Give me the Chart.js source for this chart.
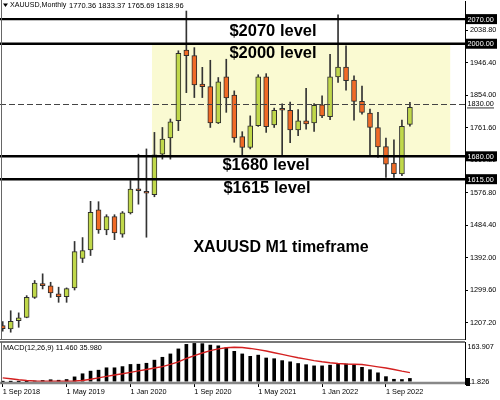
<!DOCTYPE html>
<html><head><meta charset="utf-8">
<script src="https://cdn.jsdelivr.net/npm/chart.js@4.4.1/dist/chart.umd.min.js"></script>
<style>
html,body{margin:0;padding:0;background:#fff;}
#wrap{position:relative;width:500px;height:400px;overflow:hidden;background:#fff;}
canvas{position:absolute;left:0;}
#c1{top:0;} #c2{top:340px;}
</style></head><body>
<div id="wrap"><canvas id="c1" width="500" height="340"></canvas><canvas id="c2" width="500" height="60"></canvas></div>
<script>
// ---- data ----
const months = ['Sep 2018','Oct 2018','Nov 2018','Dec 2018','Jan 2019','Feb 2019','Mar 2019','Apr 2019','May 2019','Jun 2019','Jul 2019','Aug 2019',
 'Sep 2019','Oct 2019','Nov 2019','Dec 2019','Jan 2020','Feb 2020','Mar 2020','Apr 2020','May 2020','Jun 2020','Jul 2020','Aug 2020',
 'Sep 2020','Oct 2020','Nov 2020','Dec 2020','Jan 2021','Feb 2021','Mar 2021','Apr 2021','May 2021','Jun 2021','Jul 2021','Aug 2021',
 'Sep 2021','Oct 2021','Nov 2021','Dec 2021','Jan 2022','Feb 2022','Mar 2022','Apr 2022','May 2022','Jun 2022','Jul 2022','Aug 2022',
 'Sep 2022','Oct 2022','Nov 2022','Dec 2022'];
const opens  = [1199,1189,1213,1222,1279,1318,1312,1289,1281,1306,1390,1414,1528,1471,1509,1459,1519,1587,1579,1571,1686,1732,1781,1982,
 1966,1885,1878,1775,1906,1854,1736,1705,1767,1906,1769,1813,1811,1755,1781,1775,1826,1793,1906,1934,1897,1836,1803,1762,1708,1661,1630,1770.36];
const highs  = [1210,1241,1235,1284,1327,1346,1322,1308,1306,1438,1449,1552,1551,1514,1514,1523,1611,1686,1701,1748,1762,1786,1980,2093,
 1989,1933,1953,1904,1956,1866,1750,1795,1912,1915,1817,1829,1834,1813,1873,1830,1852,1970,2082,1994,1909,1880,1814,1805,1732,1727,1783,1833.37];
const lows   = [1183,1180,1194,1221,1276,1303,1279,1265,1265,1300,1378,1398,1461,1457,1443,1450,1516,1544,1450,1565,1672,1672,1753,1861,
 1847,1847,1762,1773,1805,1720,1680,1701,1765,1748,1762,1682,1719,1739,1757,1751,1790,1784,1890,1868,1783,1800,1680,1677,1620,1620,1625,1765.69];
const closes = [1190,1211,1221,1279,1320,1312,1292,1281,1304,1409,1412,1521,1471,1509,1462,1519,1587,1582,1575,1684,1729,1778,1973,1966,
 1883,1878,1775,1892,1846,1732,1705,1767,1906,1764,1811,1811,1755,1781,1772,1825,1795,1906,1934,1895,1836,1805,1762,1707,1658,1631,1765,1818.96];
const macdMain   = [-9,-11.8,-10,-7,1,3,6,4,7,18,31,42,46,56,56,61,70,71,75,88,100,114,135,154,158,157,151,148,140,125,
 114,104,109,97,94,86,81,74,69,64,64,67,72,72,67,58,48,35,19,8,7,11.46];
const macdSignal = [14,10,6,3,1,0,0,0,0,1,3,8,14,20,26,31,37,43,49,55,61,70,81,95,107,118,128,135,140,142,
 141,137,132,126,119,112,105,98,92,86,81,77,74,72,71,70,65,60,55,49,42,35.98];
const xTickLabels = ['1 Sep 2018','1 May 2019','1 Jan 2020','1 Sep 2020','1 May 2021','1 Jan 2022','1 Sep 2022'];
const priceTicks = [1207.2,1299.6,1392.0,1484.4,1576.8,1669.2,1761.6,1854.0,1946.4,2038.8];
const keyLevels = [2070,2000,1680,1615];
const keyLevelTexts = ['$2070 level','$2000 level','$1680 level','$1615 level'];
const dashedLevel = 1830;
const zoneLevels = [2000,1680];
const macdScale = [-11.826,163.907];

// ---- layout constants ----
const FONT = '"Liberation Sans", Arial, sans-serif';
const TICKSZ = 7.3;
const X_MIN = -0.09, X_MAX = 57.9;
const Y_MIN = 1160.7, Y_MAX = 2121.5;
const AXIS_W = 35;
const UP = '#C0D84A', DOWN = '#F06A26', EDGE = '#2e2e2e';
const idx = months.map((_, i) => i);
const bodyColors = idx.map(i => closes[i] >= opens[i] ? UP : DOWN);

function fixY(s){ s.width = AXIS_W; s.paddingTop = 0; s.paddingBottom = 0; }

const mainPlugin = {
  id: 'mainDecor',
  beforeDatasetsDraw(chart){
    const {ctx, chartArea: a, scales:{x, y}} = chart;
    ctx.save();
    ctx.fillStyle = '#FAFAD2';
    const x0 = x.getPixelForValue(18.7), x1 = x.getPixelForValue(56.05);
    const y0 = y.getPixelForValue(zoneLevels[0]), y1 = y.getPixelForValue(zoneLevels[1]);
    ctx.fillRect(x0, y0, x1 - x0, y1 - y0);
    ctx.restore();
  },
  afterDatasetsDraw(chart){
    const {ctx, chartArea: a, scales:{x, y}} = chart;
    ctx.save();
    ctx.strokeStyle = '#444'; ctx.lineWidth = 1; ctx.setLineDash([6,3]);
    const yd = Math.round(y.getPixelForValue(dashedLevel)) + 0.5;
    ctx.beginPath(); ctx.moveTo(0, yd); ctx.lineTo(a.right, yd); ctx.stroke();
    ctx.setLineDash([]);
    ctx.strokeStyle = '#000'; ctx.lineWidth = 2.4;
    keyLevels.forEach(v => {
      const yy = y.getPixelForValue(v);
      ctx.beginPath(); ctx.moveTo(0, yy); ctx.lineTo(a.right, yy); ctx.stroke();
    });
    ctx.restore();
  },
  afterDraw(chart){
    const {ctx, chartArea: a, scales:{x, y}} = chart;
    ctx.save();
    ctx.strokeStyle = '#666'; ctx.lineWidth = 1;
    ctx.beginPath(); ctx.moveTo(1.5, 0); ctx.lineTo(1.5, a.bottom); ctx.stroke();
    ctx.beginPath(); ctx.moveTo(0, a.bottom + 0.5); ctx.lineTo(a.right, a.bottom + 0.5); ctx.stroke();
    ctx.fillStyle = '#000';
    ctx.beginPath(); ctx.moveTo(3, 3.5); ctx.lineTo(8, 3.5); ctx.lineTo(5.5, 7); ctx.closePath(); ctx.fill();
    ctx.font = '7.1px ' + FONT; ctx.textBaseline = 'middle'; ctx.textAlign = 'left';
    const L = opens.length - 1;
    ctx.fillText('XAUUSD,Monthly', 10, 5.5);
    ctx.font = '7.5px ' + FONT;
    ctx.fillText([opens[L], highs[L], lows[L], closes[L]].map(v => v.toFixed(2)).join(' '), 69, 5.5);
    ctx.font = 'bold 16.5px ' + FONT; ctx.textAlign = 'center';
    const offs = [12.5, 10, 9, 9.5];
    const cx = [273, 273, 266, 267];
    keyLevels.forEach((v, i) => ctx.fillText(keyLevelTexts[i], cx[i], y.getPixelForValue(v) + offs[i]));
    ctx.font = 'bold 16px ' + FONT;
    ctx.fillText('XAUUSD M1 timeframe', 281, 247.5);
    ctx.font = TICKSZ + 'px ' + FONT; ctx.textAlign = 'left';
    keyLevels.forEach(v => {
      const yy = y.getPixelForValue(v);
      ctx.fillStyle = '#000'; ctx.fillRect(a.right, yy - 5, 32, 10);
      ctx.fillStyle = '#fff'; ctx.fillText(v.toFixed(2), a.right + 2.5, yy + 0.5);
    });
    const yd = y.getPixelForValue(dashedLevel);
    ctx.fillStyle = '#fff'; ctx.fillRect(a.right + 1, yd - 4.5, 32, 9);
    ctx.fillStyle = '#000'; ctx.fillText(dashedLevel.toFixed(2), a.right + 2.5, yd + 0.5);
    ctx.fillRect(a.right + 2, yd + 4, 27, 0.8);
    ctx.restore();
  }
};

new Chart(document.getElementById('c1'), {
  type: 'bar',
  data: { datasets: [
    { label: 'body', data: idx.map(i => ({x: i, y: [opens[i], closes[i]]})), backgroundColor: bodyColors,
      borderColor: EDGE, borderWidth: 1, borderSkipped: false, barThickness: 5, minBarLength: 2, grouped: false, order: 0 },
    { label: 'wick', data: idx.map(i => ({x: i, y: [lows[i], highs[i]]})), backgroundColor: '#333',
      borderWidth: 0, barThickness: 1, grouped: false, order: 1 }
  ]},
  options: {
    responsive: false, animation: false, devicePixelRatio: 1,
    layout: { padding: { left: 2, top: 1, right: 0, bottom: 1 } },
    plugins: { legend: { display: false }, tooltip: { enabled: false } },
    scales: {
      x: { type: 'linear', min: X_MIN, max: X_MAX, offset: false, bounds: 'data', display: false, grid: { offset: false } },
      y: { position: 'right', min: Y_MIN, max: Y_MAX, afterFit: fixY,
        afterBuildTicks(s){ s.ticks = priceTicks.map(v => ({value: v})); },
        ticks: { autoSkip: false, callback: v => Number(v).toFixed(2), font: { family: FONT, size: TICKSZ }, color: '#000', padding: 2 },
        grid: { drawOnChartArea: false, tickLength: 3, color: '#000' },
        border: { display: true, color: '#000', width: 1 } }
    }
  },
  plugins: [mainPlugin]
});

const macdPlugin = {
  id: 'macdDecor',
  afterDraw(chart){
    const {ctx, chartArea: a, scales:{x, y}} = chart;
    ctx.save();
    ctx.strokeStyle = '#777'; ctx.lineWidth = 2;
    ctx.beginPath(); ctx.moveTo(0, a.top); ctx.lineTo(a.right, a.top); ctx.stroke();
    ctx.strokeStyle = '#888'; ctx.lineWidth = 2.5;
    ctx.beginPath(); ctx.moveTo(0, a.bottom - 1); ctx.lineTo(a.right, a.bottom - 1); ctx.stroke();
    ctx.strokeStyle = '#666'; ctx.lineWidth = 1;
    ctx.beginPath(); ctx.moveTo(1.5, a.top); ctx.lineTo(1.5, a.bottom); ctx.stroke();
    ctx.fillStyle = '#000'; ctx.font = TICKSZ + 'px ' + FONT; ctx.textBaseline = 'middle'; ctx.textAlign = 'left';
    const L = macdMain.length - 1;
    ctx.fillText('MACD(12,26,9) ' + macdMain[L].toFixed(3) + ' ' + macdSignal[L].toFixed(3), 3, a.top + 5.5);
    ctx.fillText(macdScale[1].toFixed(3), a.right + 2.5, a.top + 4.5);
    ctx.fillText(Math.abs(macdScale[0]).toFixed(3), a.right + 2.5, a.bottom - 2);
    ctx.fillRect(a.right + 1, a.bottom - 6, 4, 8);
    ctx.restore();
  }
};

new Chart(document.getElementById('c2'), {
  type: 'bar',
  data: { datasets: [
    { type: 'line', data: idx.map(i => ({x: i, y: macdSignal[i]})), borderColor: '#D42020', borderWidth: 1.4,
      pointRadius: 0, tension: 0, order: 0 },
    { type: 'bar', data: idx.map(i => ({x: i, y: macdMain[i]})), backgroundColor: '#000', barThickness: 3, order: 1 }
  ]},
  options: {
    responsive: false, animation: false, devicePixelRatio: 1,
    layout: { padding: { left: 2, top: 2, right: 0, bottom: 0 } },
    plugins: { legend: { display: false }, tooltip: { enabled: false } },
    scales: {
      x: { type: 'linear', min: X_MIN, max: X_MAX, offset: false, bounds: 'data',
        afterFit(s){ s.height = 16; s.paddingLeft = 0; s.paddingRight = 0; },
        afterBuildTicks(s){ s.ticks = xTickLabels.map(l => ({value: months.indexOf(l.slice(2))})); },
        ticks: { autoSkip: false, maxRotation: 0, minRotation: 0, align: 'start',
          callback: v => xTickLabels.find(l => months.indexOf(l.slice(2)) === v) || '',
          font: { family: FONT, size: TICKSZ }, color: '#000', padding: 1 },
        grid: { drawOnChartArea: false, tickLength: 3, color: '#000', offset: false },
        border: { display: false } },
      y: { position: 'right', min: macdScale[0], max: macdScale[1], afterFit: fixY,
        afterBuildTicks(s){ s.ticks = []; },
        ticks: { display: false },
        grid: { drawOnChartArea: false, drawTicks: false },
        border: { display: true, color: '#000', width: 1 } }
    }
  },
  plugins: [macdPlugin]
});
</script>
</body></html>
